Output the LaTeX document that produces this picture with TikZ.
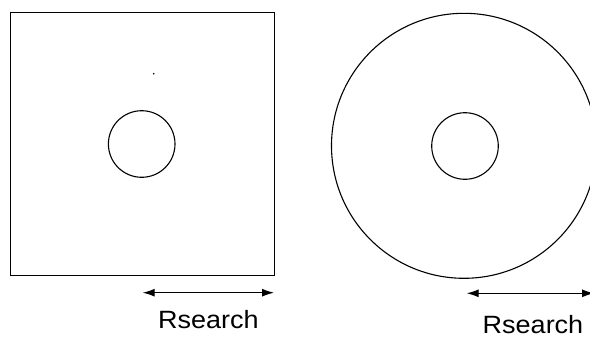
\documentclass[tikz,border=0pt]{standalone}
\usepackage{fontspec}
\setmainfont{Liberation Sans}
\usetikzlibrary{arrows.meta}
\begin{document}
\begin{tikzpicture}[x=1pt,y=-1pt,
  shape line/.style={draw=black,line width=1.1pt},
  dim arrow/.style={line width=1.1pt,{Latex[length=12pt,width=8pt]}-{Latex[length=12pt,width=8pt]}},
  label text/.style={font=\fontsize{25}{30}\selectfont,inner sep=0pt,anchor=base,xscale=1.08}]
\useasboundingbox (0,0) rectangle (590,338);
\clip (0,0) rectangle (590,338);
% left: square with small circle
\node[shape line,minimum width=264pt,minimum height=263pt,inner sep=0pt,anchor=north west] (sq) at (10,12) {};
\node[shape line,circle,minimum size=66.6pt,inner sep=0pt] (c1) at (141.7,144) {};
\fill (153.7,73.7) circle (0.9pt);
% right: big circle with small circle
\node[shape line,circle,minimum size=265pt,inner sep=0pt] (bc) at (464,145.8) {};
\node[shape line,circle,minimum size=66.6pt,inner sep=0pt] (c2) at (465,146) {};
% dimension arrows
\coordinate (a1l) at (142.7,292.7);
\coordinate (a1r) at (274,292.7);
\draw[dim arrow] (a1l) -- (a1r);
\coordinate (a2l) at (466.7,293.3);
\coordinate (a2r) at (594,293.3);
\draw[dim arrow] (a2l) -- (a2r);
% labels
\node[label text] (t1) at (208.5,328.3) {Rsearch};
\node[label text] (t2) at (533,333) {Rsearch};
\end{tikzpicture}
\end{document}
